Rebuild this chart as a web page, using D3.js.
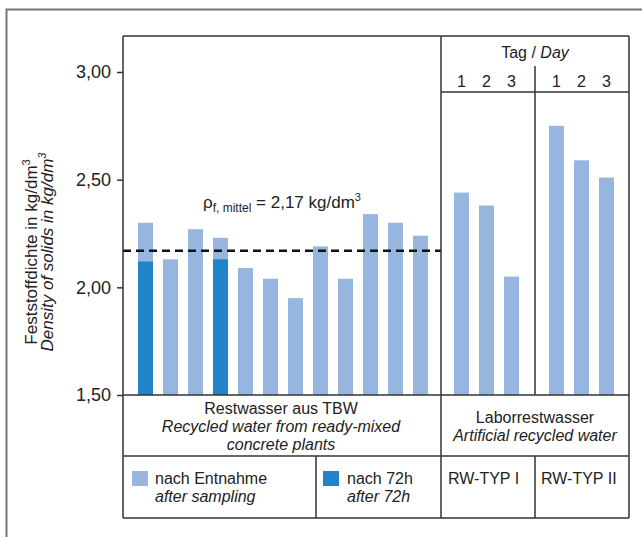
<!DOCTYPE html>
<html>
<head>
<meta charset="utf-8">
<script src="https://cdn.jsdelivr.net/npm/d3@7"></script>
<style>
  body { margin: 0; background: #fff; }
  svg { display: block; font-family: "Liberation Sans", Arial, sans-serif; }
  text { fill: #222; }
</style>
</head>
<body>
<script>
//chart data
var tbwSamples = ["1", "2", "3", "4", "5", "6", "7", "8", "9", "10", "11", "12"];
var tbwAfterSampling = [2.30, 2.13, 2.27, 2.23, 2.09, 2.04, 1.95, 2.19, 2.04, 2.34, 2.30, 2.24];
var tbwAfter72h = [2.12, null, null, 2.13, null, null, null, null, null, null, null, null];
var days = ["1", "2", "3"];
var typ1Values = [2.44, 2.38, 2.05];
var typ2Values = [2.75, 2.59, 2.51];
var meanDensity = 2.17;
var yTicks = [1.5, 2.0, 2.5, 3.0];

document.addEventListener("DOMContentLoaded", init);

function init(){
    var width = 642, height = 537;
    var lightBlue = "#97b6df", darkBlue = "#2383c8", lineColor = "#333";

    //frame layout
    var left = 123, right = 629, top = 36, axisY = 395, rowY = 456, bottom = 518;
    var divA = 441, divB = 535, divLegend = 316, headerLine = 92;

    var svg = d3.select("body").append("svg")
        .attr("width", width)
        .attr("height", height);

    //outer grey frame
    svg.append("path")
        .attr("d", "M6.5,537 V9.5 H642")
        .attr("fill", "none")
        .attr("stroke", "#777")
        .attr("stroke-width", 2);

    //scales
    var y = d3.scaleLinear().domain([1.5, 3.0]).range([axisY, 72]);
    var xTbw = d3.scaleBand().domain(tbwSamples).range([133, 433]).paddingInner(0.4).paddingOuter(0.2);
    var xTyp1 = d3.scaleBand().domain(days).range([449, 524]).paddingInner(0.4).paddingOuter(0.2);
    var xTyp2 = d3.scaleBand().domain(days).range([544, 619]).paddingInner(0.4).paddingOuter(0.2);

    //bars - after sampling
    svg.append("g").selectAll("rect")
        .data(tbwAfterSampling)
        .enter().append("rect")
        .attr("x", function(d, i){ return xTbw(tbwSamples[i]); })
        .attr("width", xTbw.bandwidth())
        .attr("y", function(d){ return y(d); })
        .attr("height", function(d){ return axisY - y(d); })
        .attr("fill", lightBlue);

    //bars - after 72h
    svg.append("g").selectAll("rect")
        .data(tbwAfter72h.map(function(v, i){ return {k: tbwSamples[i], v: v}; }).filter(function(d){ return d.v != null; }))
        .enter().append("rect")
        .attr("x", function(d){ return xTbw(d.k); })
        .attr("width", xTbw.bandwidth())
        .attr("y", function(d){ return y(d.v); })
        .attr("height", function(d){ return axisY - y(d.v); })
        .attr("fill", darkBlue);

    //artificial recycled water bars
    [[xTyp1, typ1Values], [xTyp2, typ2Values]].forEach(function(g){
        svg.append("g").selectAll("rect")
            .data(g[1])
            .enter().append("rect")
            .attr("x", function(d, i){ return g[0](days[i]); })
            .attr("width", g[0].bandwidth())
            .attr("y", function(d){ return y(d); })
            .attr("height", function(d){ return axisY - y(d); })
            .attr("fill", lightBlue);
    });

    //mean line
    svg.append("line")
        .attr("x1", left).attr("x2", divA)
        .attr("y1", y(meanDensity)).attr("y2", y(meanDensity))
        .attr("stroke", "#111")
        .attr("stroke-width", 2.5)
        .attr("stroke-dasharray", "8,5");

    var rho = svg.append("text")
        .attr("x", 203).attr("y", 208)
        .style("font-size", "17px");
    rho.append("tspan").text("\u03c1");
    rho.append("tspan").attr("dy", 4).style("font-size", "12px").text("f, mittel");
    rho.append("tspan").attr("dy", -4).text(" = 2,17 kg/dm");
    rho.append("tspan").attr("dy", -7).style("font-size", "11px").text("3");

    //grid lines of the frame/table
    var lines = [
        [left, top, right, top],
        [left, top, left, bottom],
        [right, top, right, bottom],
        [divA, top, divA, bottom],
        [divB, 66, divB, axisY],
        [divB, rowY, divB, bottom],
        [divLegend, rowY, divLegend, bottom],
        [divA, headerLine, right, headerLine],
        [left, axisY, right, axisY],
        [left, rowY, right, rowY],
        [left, bottom, right, bottom]
    ];
    svg.append("g").selectAll("line")
        .data(lines)
        .enter().append("line")
        .attr("x1", function(d){ return d[0]; })
        .attr("y1", function(d){ return d[1]; })
        .attr("x2", function(d){ return d[2]; })
        .attr("y2", function(d){ return d[3]; })
        .attr("stroke", lineColor)
        .attr("stroke-width", 1.5);

    //y axis
    var yAxis = svg.append("g")
        .attr("transform", "translate(" + left + ",0)")
        .call(d3.axisLeft(y).tickValues(yTicks).tickSize(6).tickPadding(6)
            .tickFormat(function(d){ return d3.format(".2f")(d).replace(".", ","); }));
    yAxis.select(".domain").remove();
    yAxis.selectAll("line").attr("stroke", lineColor).attr("stroke-width", 1.5);
    yAxis.selectAll("text").style("font-size", "18px").attr("fill", "#222")
        .style("font-family", "'Liberation Sans', Arial, sans-serif");

    //y axis title
    var yTitle = svg.append("g").attr("transform", "translate(0,252) rotate(-90)");
    var t1 = yTitle.append("text").attr("x", 0).attr("y", 37)
        .attr("text-anchor", "middle").style("font-size", "17px");
    t1.append("tspan").text("Feststoffdichte in kg/dm");
    t1.append("tspan").attr("dy", -7).style("font-size", "11px").text("3");
    var t2 = yTitle.append("text").attr("x", 0).attr("y", 53)
        .attr("text-anchor", "middle").style("font-size", "17px").style("font-style", "italic");
    t2.append("tspan").text("Density of solids in kg/dm");
    t2.append("tspan").attr("dy", -7).style("font-size", "11px").text("3");

    //header: day numbers
    var header = svg.append("text").attr("x", divB).attr("y", 58)
        .attr("text-anchor", "middle").style("font-size", "16px");
    header.append("tspan").text("Tag / ");
    header.append("tspan").style("font-style", "italic").text("Day");

    [xTyp1, xTyp2].forEach(function(sc){
        svg.append("g").selectAll("text")
            .data(days)
            .enter().append("text")
            .attr("x", function(d){ return sc(d) + sc.bandwidth() / 2; })
            .attr("y", 87)
            .attr("text-anchor", "middle")
            .style("font-size", "16px")
            .text(function(d){ return d; });
    });

    //category labels
    function textBlock(x, y0, rows, anchor){
        rows.forEach(function(r, i){
            svg.append("text")
                .attr("x", x).attr("y", y0 + i * 18)
                .attr("text-anchor", anchor)
                .style("font-size", "16px")
                .style("font-style", r[1] ? "italic" : "normal")
                .text(r[0]);
        });
    }
    textBlock(281, 414, [["Restwasser aus TBW", false], ["Recycled water from ready-mixed", true], ["concrete plants", true]], "middle");
    textBlock(535, 423, [["Laborrestwasser", false], ["Artificial recycled water", true]], "middle");

    //legend
    svg.append("rect").attr("x", 132).attr("y", 471).attr("width", 16).attr("height", 15).attr("fill", lightBlue);
    svg.append("rect").attr("x", 323).attr("y", 471).attr("width", 16).attr("height", 15).attr("fill", darkBlue);
    textBlock(155, 484, [["nach Entnahme", false], ["after sampling", true]], "start");
    textBlock(347, 484, [["nach 72h", false], ["after 72h", true]], "start");
    textBlock(448, 484, [["RW-TYP I", false]], "start");
    textBlock(541, 484, [["RW-TYP II", false]], "start");
}
</script>
</body>
</html>
